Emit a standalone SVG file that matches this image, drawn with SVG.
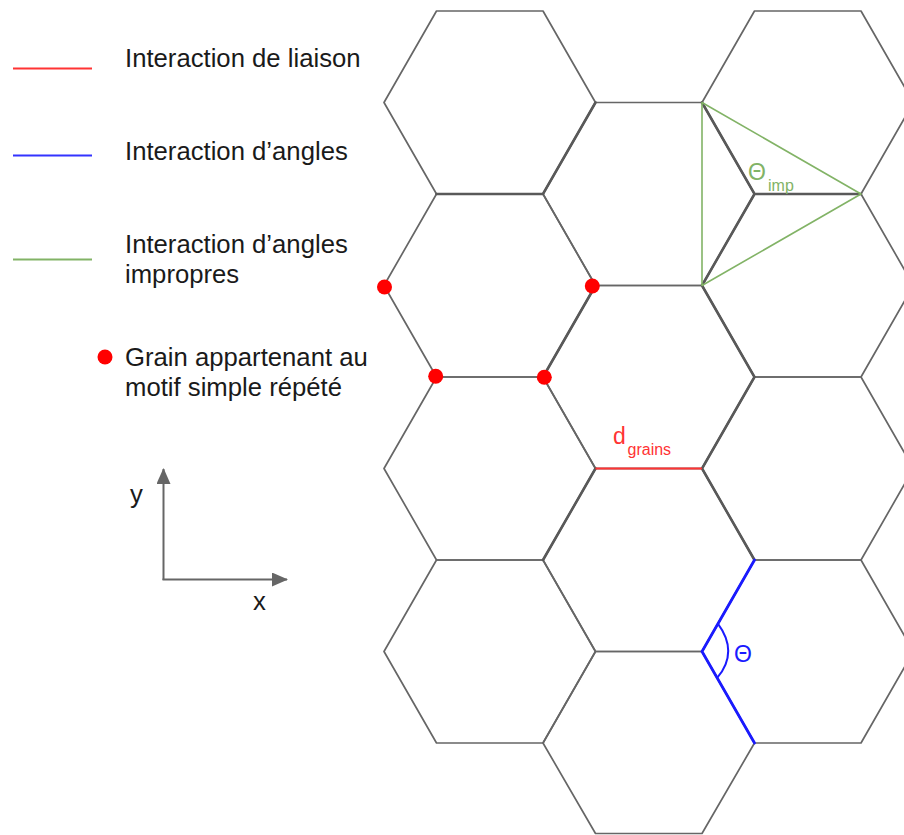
<svg xmlns="http://www.w3.org/2000/svg" width="904" height="835" viewBox="0 0 904 835">
<style>
.hex{fill:none;stroke:#666666;stroke-width:1.7;stroke-linejoin:round}
.thick{fill:none;stroke:#595959;stroke-width:2.6;stroke-linecap:round}
.lbl{font-family:"Liberation Sans",Arial,sans-serif;font-size:25.7px;fill:#1a1a1a}
.red{stroke:#ff3333;stroke-width:2;fill:none}
.blue{stroke:#1a1aff;stroke-width:2.8;fill:none;stroke-linecap:round}
.green{stroke:#82b366;stroke-width:1.6;fill:none;stroke-linejoin:round}
.dot{fill:#ff0000}
.axis{stroke:#666666;stroke-width:2;fill:none}
</style>
<defs>
<marker id="arr" viewBox="0 0 16 14" refX="15" refY="7" markerWidth="16" markerHeight="14" markerUnits="userSpaceOnUse" orient="auto">
<path d="M0,0 L16,7 L0,14 Z" fill="#666666"/>
</marker>
</defs>
<rect width="904" height="835" fill="#ffffff"/>

<g id="legend">
<g id="legend-bond">
<line class="red" x1="13" y1="68.5" x2="92" y2="68.5"/>
<text class="lbl" x="125" y="67">Interaction de liaison</text>
</g>
<g id="legend-angle">
<line x1="13" y1="155.5" x2="92" y2="155.5" stroke="#3333ff" stroke-width="2"/>
<text class="lbl" x="125" y="160">Interaction d’angles</text>
</g>
<g id="legend-improper">
<line x1="13" y1="259.5" x2="92" y2="259.5" stroke="#82b366" stroke-width="2"/>
<text class="lbl" x="125" y="253">Interaction d’angles</text>
<text class="lbl" x="125" y="283">impropres</text>
</g>
<g id="legend-grain">
<circle class="dot" cx="105" cy="357" r="7.5"/>
<text class="lbl" x="125" y="366">Grain appartenant au</text>
<text class="lbl" x="125" y="396">motif simple répété</text>
</g>
</g>

<g id="axes">
<line class="axis" x1="163.5" y1="580" x2="163.5" y2="469" marker-end="url(#arr)"/>
<line class="axis" x1="162.5" y1="579.5" x2="287" y2="579.5" marker-end="url(#arr)"/>
<text class="lbl" x="130" y="503">y</text>
<text class="lbl" x="253" y="610">x</text>
</g>

<g id="grid">
<g id="hexA1"><polygon class="hex" points="436.5,11 543,11 595.5,102.5 543,194 436.5,194 384,102.5"/></g>
<g id="hexA2"><polygon class="hex" points="436.5,194 543,194 595.5,285.5 543,377 436.5,377 384,285.5"/></g>
<g id="hexA3"><polygon class="hex" points="436.5,377 543,377 595.5,468.5 543,560 436.5,560 384,468.5"/></g>
<g id="hexA4"><polygon class="hex" points="436.5,560 543,560 595.5,651.5 543,743 436.5,743 384,651.5"/></g>
<g id="hexB1"><polygon class="hex" points="595.5,102.5 702,102.5 754.5,194 702,285.5 595.5,285.5 543,194"/></g>
<g id="hexB2"><polygon class="hex" points="595.5,285.5 702,285.5 754.5,377 702,468.5 595.5,468.5 543,377"/></g>
<g id="hexB3"><polygon class="hex" points="595.5,468.5 702,468.5 754.5,560 702,651.5 595.5,651.5 543,560"/></g>
<g id="hexB4"><polygon class="hex" points="595.5,651.5 702,651.5 754.5,743 702,833.5 595.5,833.5 543,743"/></g>
<g id="hexC1"><polygon class="hex" points="754.5,11 861,11 913.5,102.5 861,194 754.5,194 702,102.5"/></g>
<g id="hexC2"><polygon class="hex" points="754.5,194 861,194 913.5,285.5 861,377 754.5,377 702,285.5"/></g>
<g id="hexC3"><polygon class="hex" points="754.5,377 861,377 913.5,468.5 861,560 754.5,560 702,468.5"/></g>
<g id="hexC4"><polygon class="hex" points="754.5,560 861,560 913.5,651.5 861,743 754.5,743 702,651.5"/></g>
</g>

<g id="connectors">
<path class="thick" d="M436.5,194 L543,194 L595.5,102.5 M702,102.5 L754.5,194 L861,194 M754.5,194 L702,285.5 M595.5,285.5 L543,377 M702,285.5 L754.5,377 L702,468.5 L754.5,560 M595.5,468.5 L543,560"/>
<polygon class="green" points="702,102.5 861,194 702,285.5"/>
<line class="red" x1="595.5" y1="468.5" x2="702" y2="468.5"/>
<polyline class="blue" points="754.5,560 702,651.5 754.5,743"/>
<path d="M717.7,623.3 Q739,652 717.3,677.7" stroke="#1a1aff" stroke-width="2" fill="none"/>
</g>

<g id="points">
<circle class="dot" cx="384.5" cy="287" r="7.5"/>
<circle class="dot" cx="592.3" cy="286" r="7.5"/>
<circle class="dot" cx="435.7" cy="376.3" r="7.5"/>
<circle class="dot" cx="544.3" cy="377.3" r="7.5"/>
</g>

<g id="labels">
<text x="613" y="444" font-family="Liberation Sans,Arial,sans-serif" font-size="23" fill="#ff3333">d<tspan x="627.5" y="455" font-size="16">grains</tspan></text>
<text x="748" y="180" font-family="Liberation Sans,Arial,sans-serif" font-size="23" fill="#82b366">Θ<tspan x="768" y="191" font-size="16">imp</tspan></text>
<text x="734" y="662" font-family="Liberation Sans,Arial,sans-serif" font-size="23" fill="#1a1aff">Θ</text>
</g>
</svg>
